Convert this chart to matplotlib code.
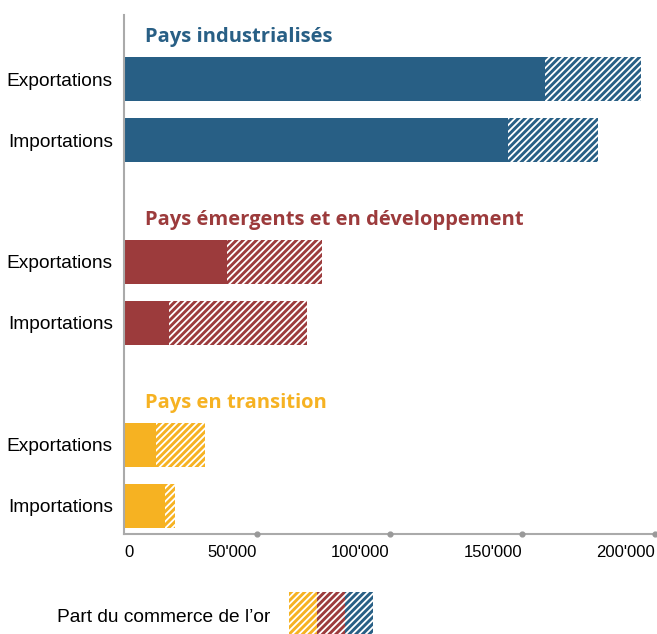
import numpy as np
import matplotlib.pyplot as plt
import matplotlib.transforms as mtransforms

# Données
groups = ["Pays industrialisés", "Pays émergents et en développement", "Pays en transition"]
colors = ["#285f85", "#9c3b3c", "#f6b222"]
rows = ["Exportations", "Importations"]
# commerce hors or (partie pleine)
sans_or = [[158700, 144700], [38700, 16900], [12000, 15400]]
# commerce total, or compris (fin de la partie hachurée)
total = [[194700, 178600], [74400, 68800], [30500, 19200]]
xticks = [0, 50000, 100000, 150000, 200000]
xticklabels = ["0", "50'000", "100'000", "150'000", "200'000"]
legend_label = "Part du commerce de l\u2019or"

plt.rcParams['hatch.color'] = 'white'
plt.rcParams['hatch.linewidth'] = 1.3
label_font = "Liberation Sans"
title_font = ["Open Sans", "DejaVu Sans"]

fig = plt.figure(figsize=(6.57, 6.34), dpi=100)
ax = fig.add_axes([124 / 657, 100 / 634, 531 / 657, 519 / 634])

h = 0.72
ypos, ylabels = [], []
for g in range(len(groups)):
	base = g * 3
	ax.text(0.04 * 200000, base - 0.69, groups[g], color=colors[g], fontsize=14.5,
			fontweight='bold', family=title_font, va='center', ha='left')
	for r in range(len(rows)):
		y = base + r
		ax.barh(y, sans_or[g][r], height=h, color=colors[g], linewidth=0)
		ax.barh(y, total[g][r] - sans_or[g][r], left=sans_or[g][r], height=h,
				color=colors[g], edgecolor='white', hatch='/////', linewidth=0)
		ypos.append(y)
		ylabels.append(rows[r])

ax.set_xlim(0, 200000)
ax.set_ylim(7.46, -1.05)
ax.set_yticks(ypos)
ax.set_yticklabels(ylabels, fontsize=13.8, family=label_font)
ax.tick_params(axis='y', length=0, pad=8)
ax.set_xticks(xticks)
ax.set_xticklabels(xticklabels, fontsize=12, family=label_font)
for i, t in enumerate(ax.get_xticklabels()):
	t.set_ha('left' if i == 0 else 'right')
ax.tick_params(axis='x', length=0, pad=8)

# petits points gris sur l'axe aux graduations
trans = mtransforms.blended_transform_factory(ax.transData, ax.transAxes)
ax.scatter(xticks[1:], [0] * (len(xticks) - 1), s=12, color='#999999', transform=trans,
		   clip_on=False, zorder=5)

for s in ['top', 'right']:
	ax.spines[s].set_visible(False)
ax.spines['left'].set_color('#aaaaaa')
ax.spines['bottom'].set_color('#aaaaaa')
ax.spines['left'].set_linewidth(1.5)
ax.spines['bottom'].set_linewidth(1.5)

# légende
fig.text(57 / 657, 1 - 617 / 634, legend_label, fontsize=13.8, family=label_font,
		 va='center', ha='left')
lax = fig.add_axes([289 / 657, 0, 84 / 657, 42 / 634])
lax.bar(np.arange(3), [1, 1, 1], width=1.0, color=colors[::-1], edgecolor='white',
		hatch='/////', linewidth=0)
lax.set_xlim(-0.5, 2.5)
lax.set_ylim(0, 1)
lax.axis('off')

fig.savefig("out.png", dpi=100)
